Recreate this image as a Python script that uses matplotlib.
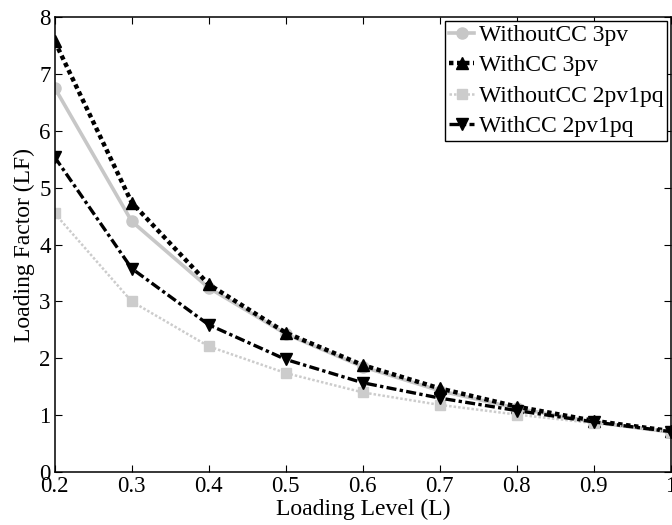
import numpy as np
import matplotlib.pyplot as plt

plt.rcParams['font.family'] = ['Liberation Serif', 'DejaVu Serif']
plt.rcParams['mathtext.fontset'] = 'stix'

level = [0.2, 0.3, 0.4, 0.5, 0.6, 0.7, 0.8, 0.9, 1.0]
without_3pv = [6.76, 4.41, 3.24, 2.43, 1.85, 1.43, 1.12, 0.88, 0.70]
with_3pv = [7.58, 4.74, 3.30, 2.45, 1.88, 1.47, 1.15, 0.90, 0.72]
without_2pv1pq = [4.55, 3.00, 2.21, 1.74, 1.40, 1.18, 1.01, 0.86, 0.70]
with_2pv1pq = [5.54, 3.58, 2.59, 1.98, 1.57, 1.30, 1.08, 0.88, 0.71]

fig = plt.figure(figsize=(6.72, 5.25), dpi=100)
ax = fig.add_axes([0.0814, 0.101, 0.917, 0.866])

ax.plot(level, without_3pv, color='0.78', ls='-', lw=2.6, marker='o', ms=8,
        label='WithoutCC 3pv')
ax.plot(level, with_3pv, color='black', ls=(0, (1, 0.8)), lw=3.2, marker='^', ms=9,
        label='WithCC 3pv')
ax.plot(level, without_2pv1pq, color='0.8', ls=(0, (1, 0.8)), lw=1.8, marker='s', ms=7,
        label='WithoutCC 2pv1pq')
ax.plot(level, with_2pv1pq, color='black', ls=(0, (3, 1, 1, 1)), lw=2.4, marker='v', ms=9,
        label='WithCC 2pv1pq')

ax.set_xlim(0.2, 1.0)
ax.set_ylim(0, 8)
ax.set_xticks(np.arange(0.2, 1.01, 0.1))
ax.set_xticklabels(['0.2', '0.3', '0.4', '0.5', '0.6', '0.7', '0.8', '0.9', '1'])
ax.set_yticks(range(0, 9))
ax.tick_params(direction='in', top=True, right=True, labelsize=16.5, length=5, width=0.8)
ax.tick_params(axis='x', pad=3)
ax.tick_params(axis='y', pad=3)
for s in ax.spines.values():
    s.set_linewidth(1.1)

ax.set_xlabel('Loading Level (L)', fontsize=17, labelpad=1)
ax.set_ylabel('Loading Factor (LF)', fontsize=17, labelpad=3)

leg = ax.legend(loc='upper right', fontsize=17, handlelength=1.1, handletextpad=0.2,
                borderpad=0.15, labelspacing=0.38, borderaxespad=0.15, fancybox=False,
                edgecolor='black', framealpha=1)
leg.get_frame().set_linewidth(1.0)

fig.savefig('out.png', dpi=100)
